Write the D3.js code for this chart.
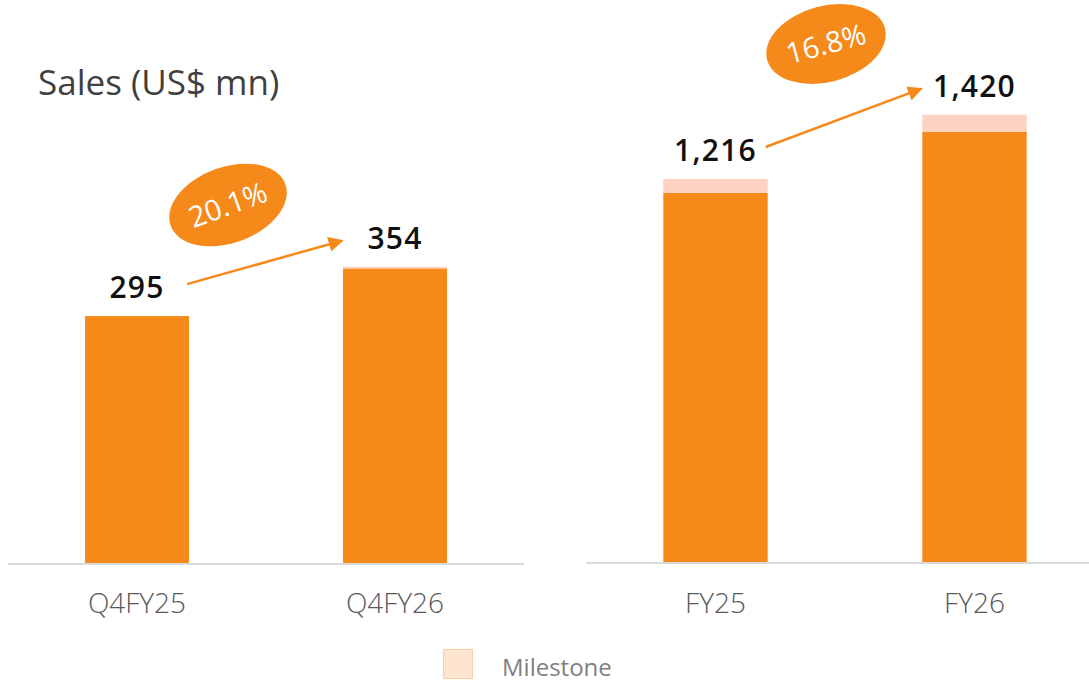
<!DOCTYPE html>
<html><head><meta charset="utf-8">
<script src="https://cdn.jsdelivr.net/npm/d3@7"></script>
<style>body{margin:0;background:#fff}svg{display:block}</style>
</head><body><svg id="c" width="1089" height="683"></svg>
<script>
const quarterCats = ["Q4FY25", "Q4FY26"];
const quarterBase = [295, 352];
const quarterMilestone = [0, 2];
const quarterLabels = ["295", "354"];
const quarterGrowth = "20.1%";

const yearCats = ["FY25", "FY26"];
const yearBase = [1172, 1366];
const yearMilestone = [44, 54];
const yearLabels = ["1,216", "1,420"];
const yearGrowth = "16.8%";

const title = "Sales (US$ mn)";
const legendLabel = "Milestone";

const ORANGE = "#f5891a", MILE = "#fdd2c2", AXIS = "#d9d9d9";
const svg = d3.select("#c");
const FONT = "'Open Sans', sans-serif";

svg.append("defs").append("marker").attr("id","ah").attr("viewBox","0 0 10 10")
  .attr("refX",9).attr("refY",5).attr("markerWidth",6).attr("markerHeight",6)
  .attr("orient","auto").append("path").attr("d","M0,0L10,5L0,10z").attr("fill",ORANGE);

function panel(cats, base, mile, labels, growth, xr, y0, pxPerUnit, ell) {
  const x = d3.scaleBand().domain(cats).range(xr).paddingInner(0.597).paddingOuter(0.2985);
  const maxV = d3.max(base.map((b,i)=>b+mile[i]));
  const y = d3.scaleLinear().domain([0, maxV]).range([y0, y0 - maxV*pxPerUnit]);
  const g = svg.append("g");
  g.append("line").attr("x1",xr[0]).attr("x2",Math.min(xr[1],1089)).attr("y1",y0+1).attr("y2",y0+1)
    .attr("stroke",AXIS).attr("stroke-width",2);
  cats.forEach((c,i)=>{
    g.append("rect").attr("x",x(c)).attr("width",x.bandwidth()).attr("y",y(base[i])).attr("height",y0-y(base[i])).attr("fill",ORANGE);
    if (mile[i]>0) g.append("rect").attr("x",x(c)).attr("width",x.bandwidth()).attr("y",y(base[i]+mile[i])).attr("height",y(base[i])-y(base[i]+mile[i])).attr("fill",MILE);
    g.append("text").attr("x",x(c)+x.bandwidth()/2).attr("y",y(base[i]+mile[i])-18).attr("text-anchor","middle")
      .attr("font-family",FONT).attr("font-size",30).attr("font-weight",600).attr("letter-spacing",1.2).attr("fill","#111").text(labels[i]);
    g.append("text").attr("x",x(c)+x.bandwidth()/2).attr("y",613).attr("text-anchor","middle")
      .attr("font-family",FONT).attr("font-size",28).attr("font-weight",300).attr("fill","#595959").text(c);
  });
  const t0 = y(base[0]+mile[0]), t1 = y(base[1]+mile[1]);
  const xa = x(cats[0]) + x.bandwidth(), xb = x(cats[1]) + x.bandwidth()*0.02 - 3;
  g.append("line").attr("x1",xa-2).attr("y1",t0-32).attr("x2",xb).attr("y2",t1-26)
    .attr("stroke",ORANGE).attr("stroke-width",2.5).attr("marker-end","url(#ah)");
  const eg = g.append("g").attr("transform",`translate(${ell[0]},${ell[1]}) rotate(${ell[2]})`);
  eg.append("ellipse").attr("rx",61).attr("ry",38).attr("fill",ORANGE);
  eg.append("text").attr("text-anchor","middle").attr("y",10).attr("font-family",FONT).attr("font-size",29)
    .attr("fill","#fff").text(growth);
}

panel(quarterCats, quarterBase, quarterMilestone, quarterLabels, quarterGrowth, [8,524], 563, 0.837, [228,205,-20]);
panel(yearCats, yearBase, yearMilestone, yearLabels, yearGrowth, [586,1104], 562, 0.315, [826,44,-15]);

svg.append("text").attr("x",38).attr("y",95).attr("font-family",FONT).attr("font-size",35).attr("fill","#404040").text(title);

svg.append("rect").attr("x",443.5).attr("y",649.5).attr("width",29).attr("height",29).attr("fill","#fde4cf").attr("stroke","#f9cfa8");
svg.append("text").attr("x",502).attr("y",676).attr("font-family",FONT).attr("font-size",24).attr("fill","#7f7f7f").text(legendLabel);
</script></body></html>
